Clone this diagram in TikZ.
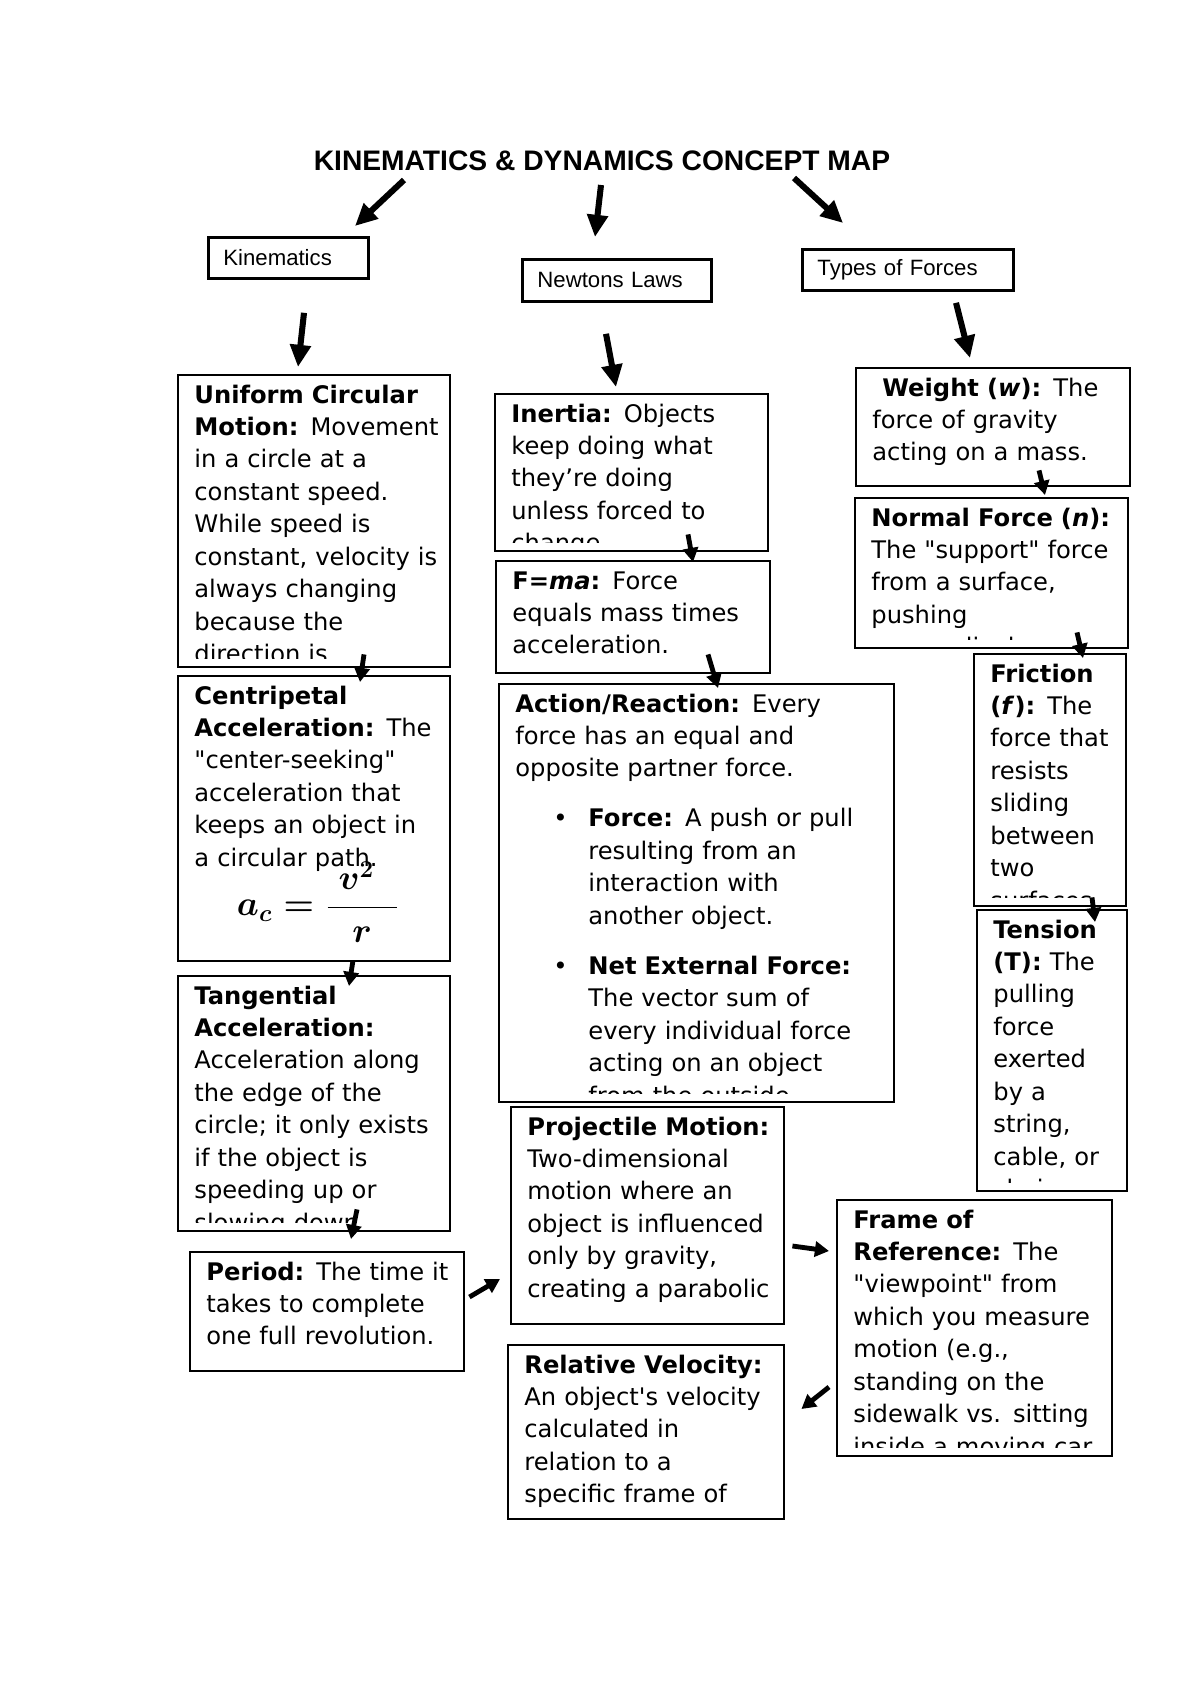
\documentclass[tikz,border=0pt]{standalone}
\usepackage{amsmath}
\usepackage{fontspec}
\setmainfont{DejaVu Sans}[Ligatures=TeXOff]
\newfontfamily\headfont{Liberation Sans}
\usetikzlibrary{arrows.meta}

\newlength{\pxu}
\setlength{\pxu}{0.4961pt}

% text of a concept box, cut off at the bottom of its frame
\newcommand{\concepttext}[2]{%
  \begin{scope}
    \clip (#1.north west) rectangle ([shift={(0,-10)}]#1.south east);
    \node[bodytext] (#1-t) at ([shift={(17,29)}]#1.north west) {#2};
  \end{scope}}

\begin{document}
\begin{tikzpicture}[x=0.4961pt,y=-0.4961pt,
  concept/.style 2 args={draw, line width=1.2pt, anchor=north west, inner sep=0pt,
    minimum width={#1*\pxu}, minimum height={#2*\pxu}},
  topic/.style 2 args={draw, line width=1.4pt, anchor=north west, inner ysep=0pt,
    inner xsep={15*\pxu}, minimum height={#2*\pxu}, text width={(#1-30)*\pxu},
    align=left, font=\headfont\fontsize{11}{13}\selectfont},
  bodytext/.style={anchor=base west, inner sep=0pt, text width={600*\pxu},
    align=left, font=\fontsize{12}{16.1}\selectfont},
  bigarrow/.style={line width=3pt, -{Triangle[length=11pt,width=10pt]}},
  smallarrow/.style={line width=2.4pt, -{Triangle[length=7pt,width=7.5pt]}}]

  \useasboundingbox (0,0) rectangle (1200,1696);

  \node[anchor=base, font=\headfont\bfseries\fontsize{14}{16}\selectfont] (title) at (602,171)
    {KINEMATICS \& DYNAMICS CONCEPT MAP};

  % the three topics
  \node[topic={160}{41}] (kin) at (207,236) {Kinematics};
  \node[topic={189}{42}] (newton) at (521,258) {Newtons Laws};
  \node[topic={211}{41}] (types) at (801,248) {Types of Forces};

  % kinematics column
  \node[concept={272}{292}] (ucm) at (177,374) {};
  \concepttext{ucm}{\textbf{Uniform Circular}\\
    \textbf{Motion:} Movement\\ in a circle at a\\ constant speed.\\ While speed is\\
    constant, velocity is\\ always changing\\ because the\\ direction is}
  \node[concept={272}{285}] (cent) at (177,675) {};
  \concepttext{cent}{\textbf{Centripetal}\\ \textbf{Acceleration:} The\\ "center-seeking"\\
    acceleration that\\ keeps an object in\\ a circular path.}
  \node[font=\LARGE\boldmath] (acform) at (318,902) {$a_c=\dfrac{\;v^{2}\;\;}{r}$};
  \node[concept={272}{255}] (tang) at (177,975) {};
  \concepttext{tang}{\textbf{Tangential}\\ \textbf{Acceleration:}\\ Acceleration along\\
    the edge of the\\ circle; it only exists\\ if the object is\\ speeding up or\\ slowing down.}
  \node[concept={274}{119}] (period) at (189,1251) {};
  \concepttext{period}{\textbf{Period:} The time it\\ takes to complete\\ one full revolution.}

  % newton column
  \node[concept={273}{157}] (inertia) at (494,393) {};
  \concepttext{inertia}{\textbf{Inertia:} Objects\\ keep doing what\\ they’re doing\\
    unless forced to\\ change.}
  \node[concept={274}{112}] (fma) at (495,560) {};
  \concepttext{fma}{\textbf{F=\textit{ma}:} Force\\ equals mass times\\ acceleration.}
  \node[concept={395}{418}] (action) at (498,683) {};
  \concepttext{action}{\textbf{Action/Reaction:} Every\\ force has an equal and\\
    opposite partner force.\\[8.7pt]
    \makebox[73\pxu][l]{\hspace*{38\pxu}•}\textbf{Force:} A push or pull\\
    \hspace*{73\pxu}resulting from an\\ \hspace*{73\pxu}interaction with\\
    \hspace*{73\pxu}another object.\\[8.7pt]
    \makebox[73\pxu][l]{\hspace*{38\pxu}•}\textbf{Net External Force:}\\
    \hspace*{73\pxu}The vector sum of\\ \hspace*{73\pxu}every individual force\\
    \hspace*{73\pxu}acting on an object\\ \hspace*{73\pxu}from the outside.}
  \node[concept={273}{217}] (proj) at (510,1106) {};
  \concepttext{proj}{\textbf{Projectile Motion:}\\ Two-dimensional\\ motion where an\\
    object is influenced\\ only by gravity,\\ creating a parabolic}
  \node[concept={276}{174}] (rel) at (507,1344) {};
  \concepttext{rel}{\textbf{Relative Velocity:}\\ An object's velocity\\ calculated in\\
    relation to a\\ specific frame of}
  \node[concept={275}{256}] (frame) at (836,1199) {};
  \concepttext{frame}{\textbf{Frame of}\\ \textbf{Reference:} The\\ "viewpoint" from\\
    which you measure\\ motion (e.g.,\\ standing on the\\ sidewalk vs. sitting\\
    inside a moving car}

  % forces column
  \node[concept={274}{118}] (weight) at (855,367) {};
  \concepttext{weight}{\hspace*{10\pxu}\textbf{Weight (\textit{w}):} The\\ force of gravity\\
    acting on a mass.}
  \node[concept={273}{150}] (normal) at (854,497) {};
  \concepttext{normal}{\textbf{Normal Force (\textit{n}):}\\ The "support" force\\
    from a surface,\\ pushing\\ perpendicular}
  \node[concept={152}{252}] (friction) at (973,653) {};
  \concepttext{friction}{\textbf{Friction}\\ \textbf{(\textit{f}):} The\\ force that\\ resists\\
    sliding\\ between\\ two\\ surfaces.}
  \node[concept={150}{281}] (tension) at (976,909) {};
  \concepttext{tension}{\textbf{Tension}\\ \textbf{(T):} The\\ pulling\\ force\\ exerted\\
    by a\\ string,\\ cable, or\\ chain.}

  % arrows from the title and topics
  \draw[bigarrow] ([shift={(-198,9)}]title.base) -- ([shift={(148,-10)}]kin.north west);
  \draw[bigarrow] ([shift={(-1,14)}]title.base) -- ([shift={(74,-21)}]newton.north west);
  \draw[bigarrow] ([shift={(192,7)}]title.base) -- ([shift={(42,-25)}]types.north west);
  \draw[bigarrow] ([shift={(97,33)}]kin.south west) -- ([shift={(121,-7)}]ucm.north west);
  \draw[bigarrow] ([shift={(85,31)}]newton.south west) -- ([shift={(122,-6)}]inertia.north west);
  \draw[bigarrow] ([shift={(155,11)}]types.south west) -- ([shift={(115,-9)}]weight.north west);

  % short arrows between the boxes
  \draw[smallarrow] ([shift={(187,-14)}]ucm.south west) -- ([shift={(183,7)}]cent.north west);
  \draw[smallarrow] ([shift={(176,-2)}]cent.south west) -- ([shift={(172,11)}]tang.north west);
  \draw[smallarrow] ([shift={(180,-23)}]tang.south west) -- ([shift={(162,-12)}]period.north west);
  \draw[smallarrow] ([shift={(194,-18)}]inertia.south west) -- ([shift={(198,2)}]fma.north west);
  \draw[smallarrow] ([shift={(213,-20)}]fma.south west) -- ([shift={(220,5)}]action.north west);
  \draw[smallarrow] ([shift={(184,-17)}]weight.south west) -- ([shift={(191,-2)}]normal.north west);
  \draw[smallarrow] ([shift={(223,-17)}]normal.south west) -- ([shift={(110,5)}]friction.north west);
  \draw[smallarrow] ([shift={(119,-10)}]friction.south west) -- ([shift={(119,13)}]tension.north west);
  \draw[smallarrow] ([shift={(4,46)}]period.north east) -- ([shift={(-10,173)}]proj.north west);
  \draw[smallarrow] ([shift={(7,140)}]proj.north east) -- ([shift={(-7,52)}]frame.north west);
  \draw[smallarrow] ([shift={(-7,188)}]frame.north west) -- ([shift={(16,65)}]rel.north east);
\end{tikzpicture}
\end{document}
